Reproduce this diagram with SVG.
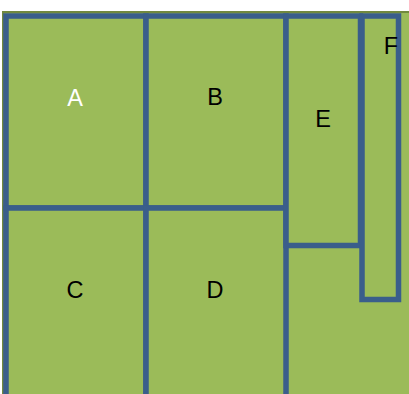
<svg xmlns="http://www.w3.org/2000/svg" width="409" height="394" viewBox="0 0 409 394">
<style>
.bg{fill:#9BBB59;stroke:#71893F;stroke-width:2}
.box{fill:#9BBB59;stroke:#3A5E8B;stroke-width:5.5}
.lbl{font-family:"Liberation Sans",Arial,sans-serif;font-size:23.5px;text-anchor:middle;fill:#000}
.w{fill:#fff}
</style>
<rect class="bg" x="3" y="12" width="412" height="390"/>
<g id="node-A"><rect class="box" x="6" y="16" width="140" height="192"/><text class="lbl w" x="75" y="106">A</text></g>
<g id="node-B"><rect class="box" x="146" y="16" width="140" height="192"/><text class="lbl" x="215" y="105">B</text></g>
<g id="node-C"><rect class="box" x="6" y="208" width="140" height="200"/><text class="lbl" x="75" y="298">C</text></g>
<g id="node-D"><rect class="box" x="146" y="208" width="140" height="200"/><text class="lbl" x="215" y="298">D</text></g>
<g id="node-E"><rect class="box" x="286" y="16" width="74.5" height="229.5"/><text class="lbl" x="323" y="126.5">E</text></g>
<g id="node-F"><rect class="box" x="362" y="16" width="36.5" height="283.5"/><text class="lbl" x="391" y="53.5">F</text></g>
<g id="connectors"></g>
</svg>
